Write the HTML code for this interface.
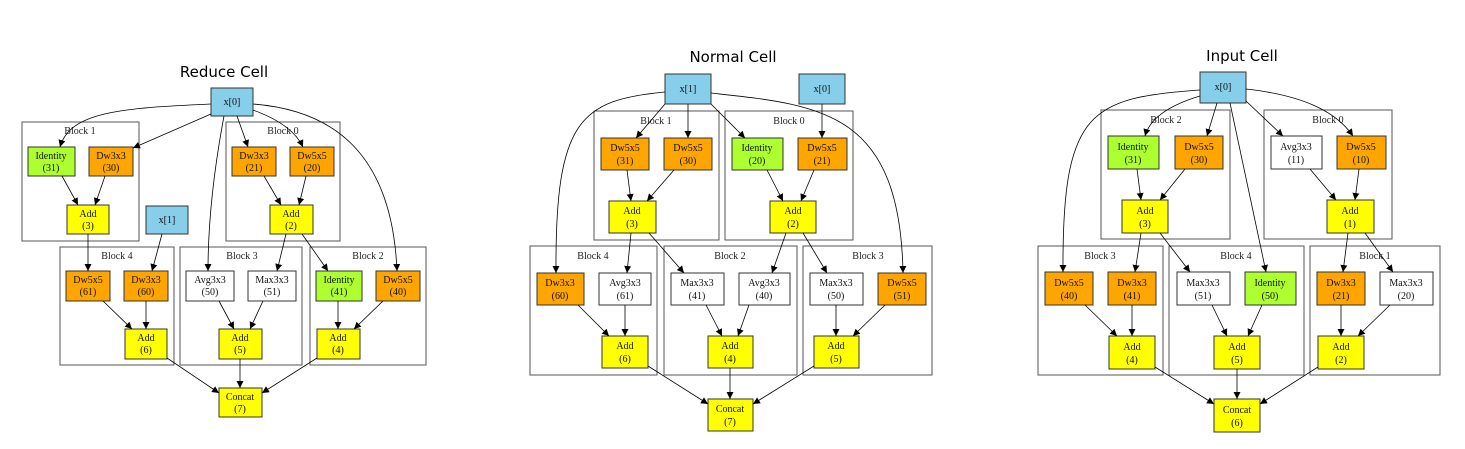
<!DOCTYPE html>
<html><head><meta charset="utf-8"><style>
html,body{margin:0;padding:0;background:#fff;}
svg{display:block;}
.n{stroke:#333;stroke-width:1;}
.b{fill:none;stroke:#555;stroke-width:1;}
.e{fill:none;stroke:#000;stroke-width:0.8;marker-end:url(#ah);}
.t{font-family:"Liberation Serif",serif;font-size:10px;text-anchor:middle;fill:#111;}
.bl{font-family:"Liberation Serif",serif;font-size:10px;text-anchor:middle;fill:#222;}
.ti{font-family:"DejaVu Sans","Liberation Sans",sans-serif;font-size:15px;text-anchor:middle;fill:#000;}
</style></head><body>
<svg width="1465" height="449" viewBox="0 0 1465 449" xmlns="http://www.w3.org/2000/svg">
<defs><marker id="ah" markerWidth="8" markerHeight="8" refX="7" refY="3.5" orient="auto" markerUnits="userSpaceOnUse"><path d="M0,0 L7,3.5 L0,7 z" fill="#000"/></marker></defs>

<!-- ===== Reduce Cell ===== -->
<text class="ti" x="224" y="77">Reduce Cell</text>
<rect class="b" x="22" y="122" width="117" height="119"/><text class="bl" x="80" y="134">Block 1</text>
<rect class="b" x="226" y="122" width="114" height="119"/><text class="bl" x="283" y="134">Block 0</text>
<rect class="b" x="60" y="247" width="114" height="118"/><text class="bl" x="117" y="259">Block 4</text>
<rect class="b" x="180" y="247" width="122" height="118"/><text class="bl" x="242" y="259">Block 3</text>
<rect class="b" x="310" y="247" width="116" height="118"/><text class="bl" x="368" y="259">Block 2</text>

<rect class="n" x="211" y="88" width="42" height="28" fill="#87ceeb"/><text class="t" x="232" y="105">x[0]</text>
<rect class="n" x="146" y="206" width="42" height="28" fill="#87ceeb"/><text class="t" x="167" y="223">x[1]</text>
<rect class="n" x="28" y="147" width="47" height="29" fill="#adff2f"/><text class="t" x="51" y="159">Identity</text><text class="t" x="51" y="171">(31)</text>
<rect class="n" x="89" y="147" width="44" height="29" fill="#ffa500"/><text class="t" x="111" y="159">Dw3x3</text><text class="t" x="111" y="171">(30)</text>
<rect class="n" x="67" y="205" width="42" height="29" fill="#ffff00"/><text class="t" x="88" y="217">Add</text><text class="t" x="88" y="229">(3)</text>
<rect class="n" x="232" y="147" width="44" height="29" fill="#ffa500"/><text class="t" x="254" y="159">Dw3x3</text><text class="t" x="254" y="171">(21)</text>
<rect class="n" x="290" y="147" width="44" height="29" fill="#ffa500"/><text class="t" x="312" y="159">Dw5x5</text><text class="t" x="312" y="171">(20)</text>
<rect class="n" x="270" y="205" width="43" height="29" fill="#ffff00"/><text class="t" x="291" y="217">Add</text><text class="t" x="291" y="229">(2)</text>
<rect class="n" x="66" y="271" width="44" height="30" fill="#ffa500"/><text class="t" x="88" y="283">Dw5x5</text><text class="t" x="88" y="295">(61)</text>
<rect class="n" x="124" y="271" width="44" height="30" fill="#ffa500"/><text class="t" x="146" y="283">Dw3x3</text><text class="t" x="146" y="295">(60)</text>
<rect class="n" x="125" y="329" width="42" height="30" fill="#ffff00"/><text class="t" x="146" y="341">Add</text><text class="t" x="146" y="353">(6)</text>
<rect class="n" x="186" y="271" width="48" height="30" fill="#fff"/><text class="t" x="210" y="283">Avg3x3</text><text class="t" x="210" y="295">(50)</text>
<rect class="n" x="248" y="271" width="48" height="30" fill="#fff"/><text class="t" x="272" y="283">Max3x3</text><text class="t" x="272" y="295">(51)</text>
<rect class="n" x="219" y="329" width="43" height="30" fill="#ffff00"/><text class="t" x="240" y="341">Add</text><text class="t" x="240" y="353">(5)</text>
<rect class="n" x="316" y="271" width="46" height="30" fill="#adff2f"/><text class="t" x="339" y="283">Identity</text><text class="t" x="339" y="295">(41)</text>
<rect class="n" x="376" y="271" width="44" height="30" fill="#ffa500"/><text class="t" x="398" y="283">Dw5x5</text><text class="t" x="398" y="295">(40)</text>
<rect class="n" x="317" y="329" width="43" height="30" fill="#ffff00"/><text class="t" x="338" y="341">Add</text><text class="t" x="338" y="353">(4)</text>
<rect class="n" x="219" y="388" width="43" height="29" fill="#ffff00"/><text class="t" x="240" y="400">Concat</text><text class="t" x="240" y="412">(7)</text>

<path class="e" d="M211,104 C120,108 70,112 60,147"/>
<path class="e" d="M211,114 L133,148"/>
<path class="e" d="M224,116 C212,180 208,230 208,271"/>
<path class="e" d="M237,116 L248,147"/>
<path class="e" d="M253,110 C275,118 295,130 303,147"/>
<path class="e" d="M253,104 C330,110 392,150 397,271"/>
<path class="e" d="M62,176 L78,205"/><path class="e" d="M105,176 L95,205"/>
<path class="e" d="M264,176 L281,205"/><path class="e" d="M306,176 L299,205"/>
<path class="e" d="M88,234 L88,271"/><path class="e" d="M162,234 L152,271"/>
<path class="e" d="M286,234 L277,271"/><path class="e" d="M302,234 L328,271"/>
<path class="e" d="M103,301 L132,329"/><path class="e" d="M146,301 L146,329"/>
<path class="e" d="M219,301 L234,329"/><path class="e" d="M263,301 L250,329"/>
<path class="e" d="M338,301 L338,329"/><path class="e" d="M383,301 L354,329"/>
<path class="e" d="M167,358 L219,393"/><path class="e" d="M240,359 L240,388"/><path class="e" d="M317,358 L262,393"/>

<!-- ===== Normal Cell ===== -->
<text class="ti" x="733" y="62">Normal Cell</text>
<rect class="b" x="594" y="111" width="125" height="129"/><text class="bl" x="656" y="124">Block 1</text>
<rect class="b" x="725" y="111" width="128" height="129"/><text class="bl" x="789" y="124">Block 0</text>
<rect class="b" x="530" y="246" width="127" height="129"/><text class="bl" x="593" y="259">Block 4</text>
<rect class="b" x="664" y="246" width="133" height="129"/><text class="bl" x="730" y="259">Block 2</text>
<rect class="b" x="803" y="246" width="129" height="129"/><text class="bl" x="868" y="259">Block 3</text>

<rect class="n" x="665" y="74" width="46" height="30" fill="#87ceeb"/><text class="t" x="688" y="92">x[1]</text>
<rect class="n" x="799" y="74" width="46" height="30" fill="#87ceeb"/><text class="t" x="822" y="92">x[0]</text>
<rect class="n" x="601" y="138" width="48" height="32" fill="#ffa500"/><text class="t" x="625" y="151">Dw5x5</text><text class="t" x="625" y="164">(31)</text>
<rect class="n" x="664" y="138" width="48" height="32" fill="#ffa500"/><text class="t" x="688" y="151">Dw5x5</text><text class="t" x="688" y="164">(30)</text>
<rect class="n" x="609" y="201" width="47" height="32" fill="#ffff00"/><text class="t" x="632" y="214">Add</text><text class="t" x="632" y="227">(3)</text>
<rect class="n" x="732" y="138" width="51" height="32" fill="#adff2f"/><text class="t" x="757" y="151">Identity</text><text class="t" x="757" y="164">(20)</text>
<rect class="n" x="798" y="138" width="49" height="32" fill="#ffa500"/><text class="t" x="822" y="151">Dw5x5</text><text class="t" x="822" y="164">(21)</text>
<rect class="n" x="770" y="201" width="46" height="32" fill="#ffff00"/><text class="t" x="793" y="214">Add</text><text class="t" x="793" y="227">(2)</text>
<rect class="n" x="537" y="273" width="47" height="32" fill="#ffa500"/><text class="t" x="560" y="286">Dw3x3</text><text class="t" x="560" y="299">(60)</text>
<rect class="n" x="599" y="273" width="52" height="32" fill="#fff"/><text class="t" x="625" y="286">Avg3x3</text><text class="t" x="625" y="299">(61)</text>
<rect class="n" x="602" y="336" width="46" height="32" fill="#ffff00"/><text class="t" x="625" y="349">Add</text><text class="t" x="625" y="362">(6)</text>
<rect class="n" x="671" y="273" width="53" height="32" fill="#fff"/><text class="t" x="697" y="286">Max3x3</text><text class="t" x="697" y="299">(41)</text>
<rect class="n" x="739" y="273" width="51" height="32" fill="#fff"/><text class="t" x="764" y="286">Avg3x3</text><text class="t" x="764" y="299">(40)</text>
<rect class="n" x="708" y="336" width="45" height="32" fill="#ffff00"/><text class="t" x="730" y="349">Add</text><text class="t" x="730" y="362">(4)</text>
<rect class="n" x="810" y="273" width="53" height="32" fill="#fff"/><text class="t" x="836" y="286">Max3x3</text><text class="t" x="836" y="299">(50)</text>
<rect class="n" x="878" y="273" width="48" height="32" fill="#ffa500"/><text class="t" x="902" y="286">Dw5x5</text><text class="t" x="902" y="299">(51)</text>
<rect class="n" x="814" y="336" width="45" height="32" fill="#ffff00"/><text class="t" x="836" y="349">Add</text><text class="t" x="836" y="362">(5)</text>
<rect class="n" x="708" y="399" width="45" height="32" fill="#ffff00"/><text class="t" x="730" y="412">Concat</text><text class="t" x="730" y="425">(7)</text>

<path class="e" d="M665,92 C580,100 555,120 556,273"/>
<path class="e" d="M665,104 L636,138"/>
<path class="e" d="M688,104 L688,138"/>
<path class="e" d="M711,104 L745,138"/>
<path class="e" d="M711,93 C820,105 900,110 903,273"/>
<path class="e" d="M822,104 L822,138"/>
<path class="e" d="M627,170 L631,201"/><path class="e" d="M674,170 L647,201"/>
<path class="e" d="M767,170 L783,201"/><path class="e" d="M814,170 L801,201"/>
<path class="e" d="M631,233 L627,273"/><path class="e" d="M649,233 L684,273"/>
<path class="e" d="M786,233 L772,273"/><path class="e" d="M803,233 L827,273"/>
<path class="e" d="M578,305 L609,336"/><path class="e" d="M625,305 L625,336"/>
<path class="e" d="M706,305 L722,336"/><path class="e" d="M749,305 L738,336"/>
<path class="e" d="M836,305 L836,336"/><path class="e" d="M885,305 L853,336"/>
<path class="e" d="M648,366 L708,404"/><path class="e" d="M730,368 L730,399"/><path class="e" d="M814,366 L753,404"/>

<!-- ===== Input Cell ===== -->
<text class="ti" x="1242" y="61">Input Cell</text>
<rect class="b" x="1101" y="110" width="129" height="129"/><text class="bl" x="1166" y="123">Block 2</text>
<rect class="b" x="1264" y="110" width="128" height="129"/><text class="bl" x="1328" y="123">Block 0</text>
<rect class="b" x="1038" y="246" width="125" height="129"/><text class="bl" x="1100" y="259">Block 3</text>
<rect class="b" x="1169" y="246" width="135" height="129"/><text class="bl" x="1236" y="259">Block 4</text>
<rect class="b" x="1310" y="246" width="130" height="129"/><text class="bl" x="1375" y="259">Block 1</text>

<rect class="n" x="1200" y="72" width="46" height="31" fill="#87ceeb"/><text class="t" x="1223" y="90">x[0]</text>
<rect class="n" x="1108" y="136" width="51" height="33" fill="#adff2f"/><text class="t" x="1133" y="150">Identity</text><text class="t" x="1133" y="163">(31)</text>
<rect class="n" x="1175" y="136" width="48" height="33" fill="#ffa500"/><text class="t" x="1199" y="150">Dw5x5</text><text class="t" x="1199" y="163">(30)</text>
<rect class="n" x="1122" y="200" width="46" height="33" fill="#ffff00"/><text class="t" x="1145" y="214">Add</text><text class="t" x="1145" y="227">(3)</text>
<rect class="n" x="1271" y="136" width="51" height="33" fill="#fff"/><text class="t" x="1296" y="150">Avg3x3</text><text class="t" x="1296" y="163">(11)</text>
<rect class="n" x="1337" y="136" width="49" height="33" fill="#ffa500"/><text class="t" x="1361" y="150">Dw5x5</text><text class="t" x="1361" y="163">(10)</text>
<rect class="n" x="1327" y="200" width="47" height="33" fill="#ffff00"/><text class="t" x="1350" y="214">Add</text><text class="t" x="1350" y="227">(1)</text>
<rect class="n" x="1045" y="272" width="48" height="33" fill="#ffa500"/><text class="t" x="1069" y="286">Dw5x5</text><text class="t" x="1069" y="299">(40)</text>
<rect class="n" x="1108" y="272" width="48" height="33" fill="#ffa500"/><text class="t" x="1132" y="286">Dw3x3</text><text class="t" x="1132" y="299">(41)</text>
<rect class="n" x="1109" y="336" width="46" height="33" fill="#ffff00"/><text class="t" x="1132" y="350">Add</text><text class="t" x="1132" y="363">(4)</text>
<rect class="n" x="1177" y="272" width="53" height="33" fill="#fff"/><text class="t" x="1203" y="286">Max3x3</text><text class="t" x="1203" y="299">(51)</text>
<rect class="n" x="1245" y="272" width="51" height="33" fill="#adff2f"/><text class="t" x="1270" y="286">Identity</text><text class="t" x="1270" y="299">(50)</text>
<rect class="n" x="1214" y="336" width="46" height="33" fill="#ffff00"/><text class="t" x="1237" y="350">Add</text><text class="t" x="1237" y="363">(5)</text>
<rect class="n" x="1317" y="272" width="48" height="33" fill="#ffa500"/><text class="t" x="1341" y="286">Dw3x3</text><text class="t" x="1341" y="299">(21)</text>
<rect class="n" x="1380" y="272" width="53" height="33" fill="#fff"/><text class="t" x="1406" y="286">Max3x3</text><text class="t" x="1406" y="299">(20)</text>
<rect class="n" x="1318" y="336" width="46" height="33" fill="#ffff00"/><text class="t" x="1341" y="350">Add</text><text class="t" x="1341" y="363">(2)</text>
<rect class="n" x="1214" y="399" width="46" height="33" fill="#ffff00"/><text class="t" x="1237" y="413">Concat</text><text class="t" x="1237" y="426">(6)</text>

<path class="e" d="M1200,90 C1090,98 1062,110 1063,272"/>
<path class="e" d="M1200,96 C1170,105 1150,118 1145,136"/>
<path class="e" d="M1217,103 L1207,136"/>
<path class="e" d="M1230,103 L1266,272"/>
<path class="e" d="M1246,101 L1283,136"/>
<path class="e" d="M1246,89 C1300,95 1335,110 1353,136"/>
<path class="e" d="M1137,169 L1141,200"/><path class="e" d="M1185,169 L1160,200"/>
<path class="e" d="M1310,169 L1336,200"/><path class="e" d="M1359,169 L1355,200"/>
<path class="e" d="M1141,233 L1135,272"/><path class="e" d="M1160,233 L1190,272"/>
<path class="e" d="M1348,233 L1343,272"/><path class="e" d="M1365,233 L1393,272"/>
<path class="e" d="M1085,305 L1117,336"/><path class="e" d="M1132,305 L1132,336"/>
<path class="e" d="M1212,305 L1227,336"/><path class="e" d="M1262,305 L1248,336"/>
<path class="e" d="M1341,305 L1341,336"/><path class="e" d="M1390,305 L1358,336"/>
<path class="e" d="M1155,367 L1214,404"/><path class="e" d="M1237,369 L1237,399"/><path class="e" d="M1318,367 L1260,404"/>
</svg>
</body></html>
